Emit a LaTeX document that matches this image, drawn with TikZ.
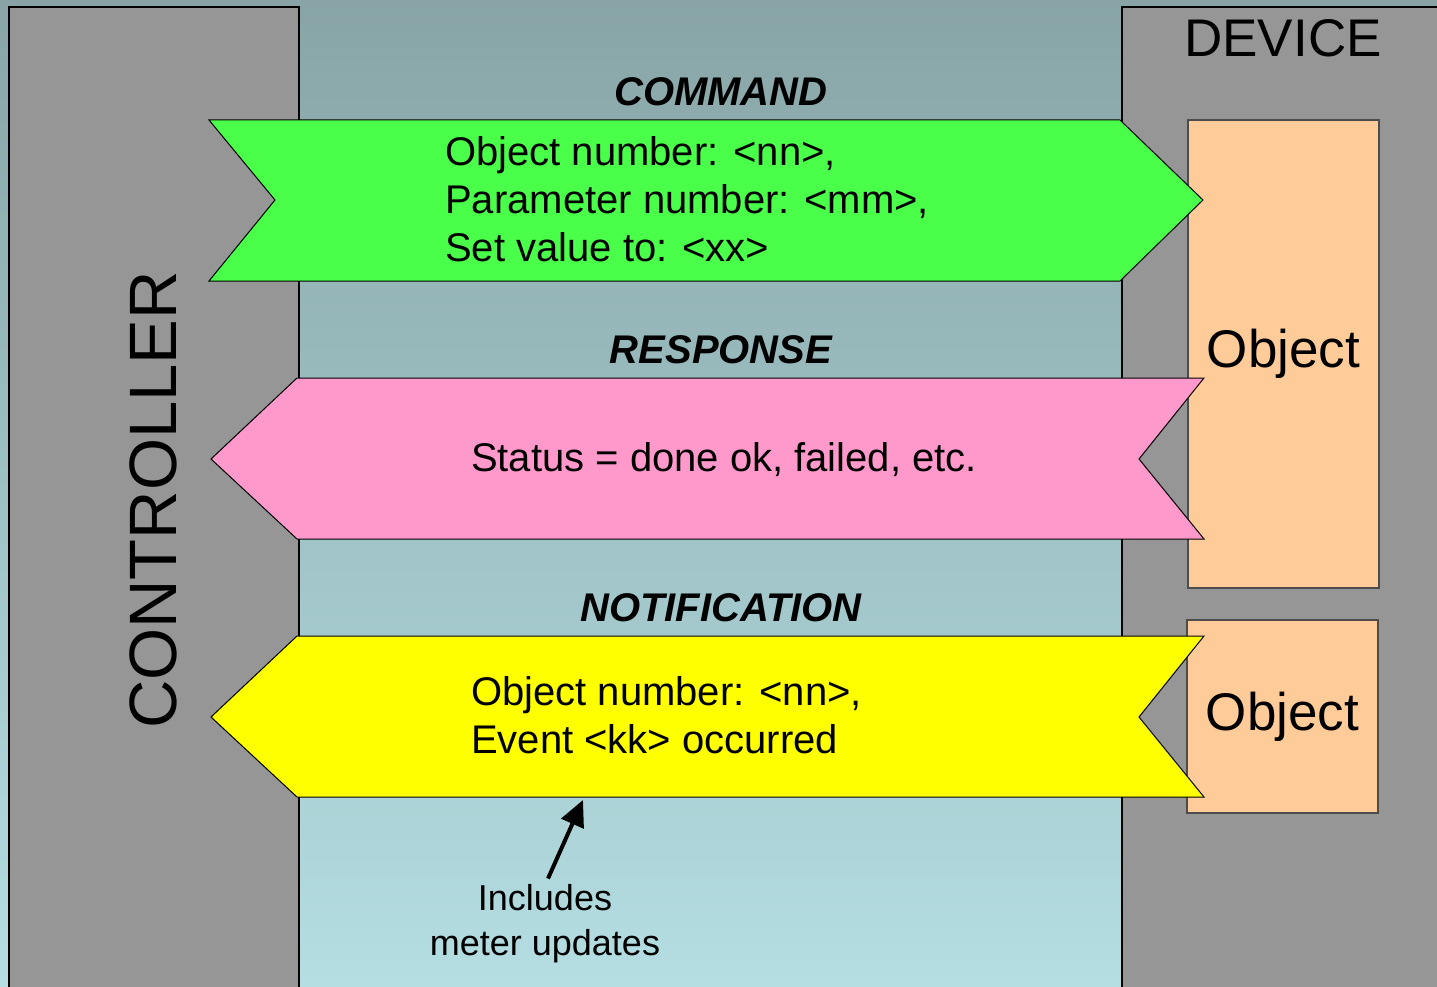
\documentclass[tikz,border=0pt]{standalone}
\usepackage{fontspec}
\setmainfont{Liberation Sans}
\usetikzlibrary{arrows.meta}
\definecolor{bgtop}{RGB}{136,164,166}
\definecolor{bgbot}{RGB}{180,222,226}
\definecolor{panelgray}{RGB}{150,150,150}
\definecolor{cmdgreen}{RGB}{74,255,74}
\definecolor{resppink}{RGB}{255,153,204}
\definecolor{notyellow}{RGB}{255,255,0}
\definecolor{objorange}{RGB}{255,204,153}
\tikzset{
  panel/.style={fill=panelgray, draw=black, line width=1.2pt},
  banner/.style={draw=black, line width=1pt, line join=miter},
  objbox/.style={fill=objorange, draw=black!70, line width=1.2pt, inner sep=0pt,
    font=\fontsize{53}{60}\selectfont},
  heading/.style={inner sep=0pt, font=\fontsize{40}{48}\selectfont\bfseries\itshape},
  body/.style={inner sep=0pt, align=left, font=\fontsize{40}{48}\selectfont},
  note/.style={inner sep=0pt, align=center, font=\fontsize{36}{45}\selectfont},
  arr/.style={line width=4pt, -{Triangle[length=26pt,width=24pt]}}
}
\begin{document}
\begin{tikzpicture}[x=1pt,y=-1pt]
\useasboundingbox (0,0) rectangle (1437,987);
\shade[top color=bgtop, bottom color=bgbot] (0,0) rectangle (1437,987);
% panels
\draw[panel] (9,1000) -- (9,7) -- (299,7) -- (299,1000);
\draw[panel] (1122,1000) -- (1122,7) -- (1450,7) -- (1450,1000);
\node[inner sep=0pt, font=\fontsize{53}{60}\selectfont] (device) at (1283,38) {DEVICE};
\node[inner sep=0pt, rotate=90, font=\fontsize{67}{75}\selectfont] (controller) at (153,500) {CONTROLLER};
% objects
\node[objbox, minimum width=191pt, minimum height=468pt] (obj1) at (1283.5,354) {Object};
\node[objbox, minimum width=191pt, minimum height=193pt] (obj2) at (1282.5,716.5) {Object};
% banners
\draw[banner, fill=cmdgreen] (209,120) -- (1120,120) -- (1203,200) -- (1120,281) -- (209,281) -- (275,200) -- cycle;
\draw[banner, fill=resppink] (297,378) -- (1204,378) -- (1139,459) -- (1204,539) -- (297,539) -- (211,459) -- cycle;
\draw[banner, fill=notyellow] (297,636) -- (1204,636) -- (1139,717) -- (1204,797) -- (297,797) -- (211,717) -- cycle;
% headings
\node[heading] (command) at (721,92) {COMMAND};
\node[heading] (response) at (721,350) {RESPONSE};
\node[heading] (notification) at (721,608) {NOTIFICATION};
% texts
\node[body, anchor=west] (cmdtext) at (445,199) {Object number: <nn>,\\Parameter number: <mm>,\\Set value to: <xx>};
\node[body] (resptext) at (724,460) {Status = done ok, failed, etc.};
\node[body, anchor=west] (nottext) at (471,715) {Object number: <nn>,\\Event <kk> occurred};
\node[note] (inc) at (545,924) {Includes\\meter updates};
\coordinate (tip) at (583,800);
\draw[arr] ([xshift=3pt,yshift=6pt]inc.north) -- (tip);
\end{tikzpicture}
\end{document}
